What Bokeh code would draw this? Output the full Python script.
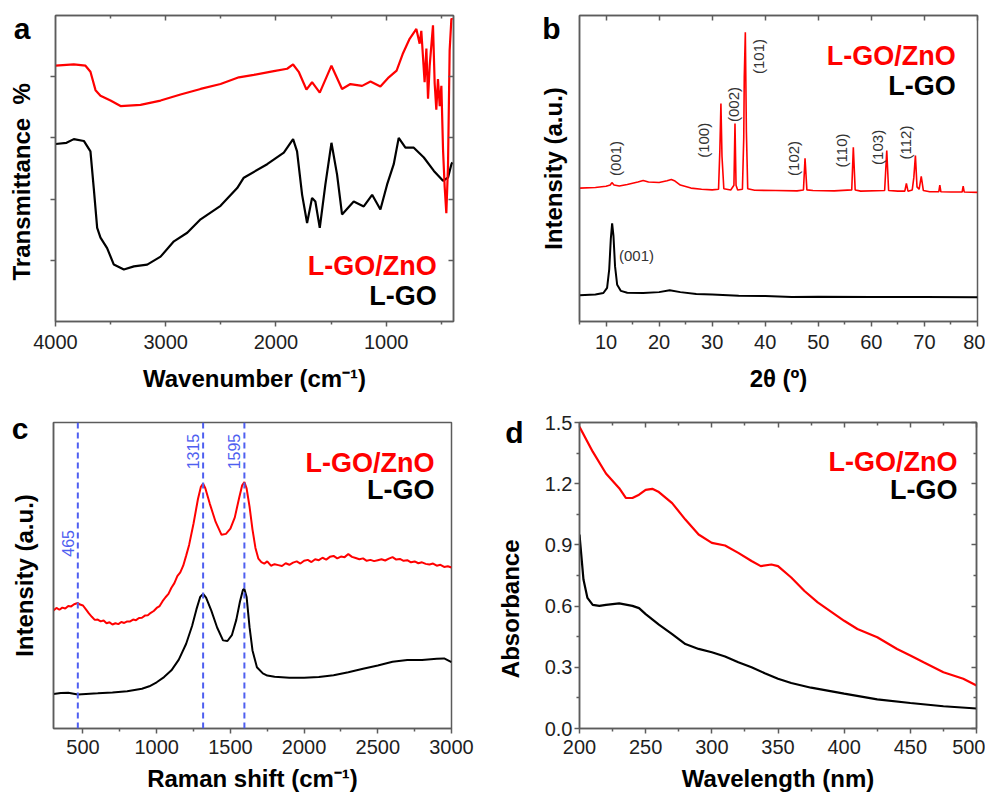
import math
from bokeh.plotting import figure
from bokeh.models import Range1d, FixedTicker, LinearAxis, Label, Span, CustomJSTickFormatter
from bokeh.layouts import row, column
from bokeh.embed import file_html
from bokeh.resources import INLINE

# ---------------- data ----------------
# (a) FTIR, transmittance (a.u.)
ftir_wn_lgozno = [4000, 3834, 3728, 3683, 3637, 3592, 3501, 3410, 3229, 3047, 2866, 2684, 2503,
                  2337, 2201, 2020, 1899, 1845, 1794, 1724, 1673, 1603, 1497, 1401, 1325, 1219,
                  1143, 1053, 977, 906, 851, 788, 742, 727, 697, 682, 652, 636, 621, 606, 576,
                  561, 546, 531, 515, 500, 485, 470, 455, 440, 425, 409, 400]
ftir_t_lgozno = [3.18, 3.20, 3.18, 3.08, 2.78, 2.69, 2.61, 2.52, 2.54, 2.61, 2.71, 2.80, 2.88,
                 2.99, 3.03, 3.09, 3.13, 3.20, 3.08, 2.79, 2.91, 2.74, 3.18, 2.80, 2.88, 2.85,
                 2.92, 2.84, 2.99, 3.10, 3.37, 3.62, 3.74, 3.78, 3.54, 3.75, 2.91, 3.46, 2.64,
                 3.18, 3.84, 2.90, 2.46, 2.96, 2.52, 2.85, 1.81, 1.20, 0.77, 1.53, 3.43, 3.95, 3.93]
ftir_wn_lgo = [4000, 3900, 3834, 3743, 3683, 3653, 3622, 3592, 3532, 3471, 3380, 3289, 3168,
               3047, 2926, 2805, 2684, 2503, 2352, 2292, 2080, 1929, 1845, 1809, 1763, 1718,
               1673, 1643, 1603, 1552, 1497, 1446, 1401, 1295, 1204, 1128, 1053, 992, 932,
               887, 826, 750, 659, 568, 485, 440, 409, 400]
ftir_t_lgo = [1.90, 1.92, 1.98, 1.95, 1.78, 1.18, 0.53, 0.37, 0.20, -0.07, -0.15, -0.10, -0.07,
              0.06, 0.31, 0.45, 0.67, 0.89, 1.18, 1.35, 1.57, 1.76, 1.98, 1.78, 1.07, 0.61,
              1.02, 0.96, 0.53, 1.24, 1.92, 1.40, 0.75, 0.96, 0.88, 1.07, 0.83, 1.24, 1.57,
              2.00, 1.84, 1.84, 1.68, 1.46, 1.30, 1.35, 1.57, 1.60]

# (b) XRD, intensity (a.u.)
xrd_2t_lgozno = [5, 8, 10, 10.8, 11.1, 11.5, 12.5, 14, 16, 17, 18, 20, 21.5, 22.3, 23, 24, 26, 28,
                 30, 31.2, 31.45, 31.65, 31.85, 32.2, 33.5, 34.1, 34.3, 34.5, 34.8, 35.7, 35.95,
                 36.05, 36.25, 36.45, 36.7, 38, 42, 46, 47.2, 47.5, 47.85, 49, 53, 56.3, 56.6,
                 56.95, 58, 62.5, 62.9, 63.25, 65, 66.3, 66.6, 66.9, 67.7, 68.0, 68.3, 68.6,
                 69.0, 69.4, 69.8, 71, 72.7, 72.9, 73.1, 75, 77.1, 77.3, 77.5, 80]
xrd_i_lgozno = [43.6, 43.8, 44.2, 44.6, 45.4, 44.6, 44.3, 44.8, 45.6, 46.1, 45.6, 45.4, 46.0, 46.4,
                45.9, 44.6, 43.6, 43.2, 43.0, 43.2, 56.0, 71.2, 54.0, 43.4, 43.0, 44.5, 64.7,
                44.5, 43.0, 43.2, 60.0, 80.0, 94.5, 62.0, 43.4, 42.9, 42.8, 42.7, 43.0, 53.3,
                43.0, 42.8, 42.7, 43.0, 56.9, 43.0, 42.6, 42.8, 55.9, 42.8, 42.6, 42.6, 45.1,
                42.6, 43.0, 47.0, 54.2, 44.0, 43.2, 47.4, 42.8, 42.4, 42.4, 44.6, 42.4, 42.3,
                42.3, 44.2, 42.3, 42.2]
xrd_2t_lgo = [5, 8, 9.5, 10.2, 10.6, 10.9, 11.15, 11.4, 11.7, 12.1, 12.8, 14, 17, 20, 22, 24, 27,
              30, 35, 40, 45, 50, 60, 70, 80]
xrd_i_lgo = [8.6, 8.8, 9.3, 11.0, 17.0, 27.0, 32.1, 28.0, 18.0, 12.0, 10.0, 9.4, 9.3, 9.6, 10.2,
             9.6, 9.0, 8.8, 8.4, 8.3, 8.0, 8.1, 8.0, 8.0, 7.9]
xrd_hkl = ["(001)", "(100)", "(002)", "(101)", "(102)", "(110)", "(103)", "(112)"]

# (c) Raman, intensity (a.u.)
raman_x_lgozno = [300, 320, 340, 360, 380, 400, 420, 440, 465, 480, 500, 520, 540, 560, 580, 600,
                  620, 640, 660, 680, 700, 720, 740, 760, 780, 800, 820, 840, 860, 880, 900, 920,
                  940, 960, 980, 1000, 1020, 1040, 1060, 1080, 1100, 1120, 1140, 1160, 1180, 1200,
                  1220, 1250, 1280, 1300, 1315, 1330, 1360, 1400, 1440, 1470, 1500, 1530, 1560,
                  1580, 1595, 1610, 1630, 1650, 1670, 1690, 1710, 1730, 1750, 1775, 1800, 1825,
                  1850, 1875, 1900, 1925, 1950, 1975, 2000, 2025, 2050, 2075, 2100, 2125, 2150,
                  2175, 2200, 2225, 2250, 2275, 2300, 2325, 2350, 2375, 2400, 2425, 2450, 2475,
                  2500, 2525, 2550, 2575, 2600, 2625, 2650, 2675, 2700, 2725, 2750, 2775, 2800,
                  2825, 2850, 2875, 2900, 2925, 2950, 2975, 3000]
raman_i_lgozno = [38.6, 39.4, 38.8, 39.5, 39.2, 40.0, 39.9, 40.6, 41.0, 40.5, 40.2, 38.9, 37.6,
                  36.5, 35.5, 35.6, 35.0, 35.3, 34.4, 34.7, 34.0, 34.4, 34.1, 34.8, 34.5, 35.0,
                  35.0, 35.6, 35.4, 36.1, 36.2, 36.9, 37.0, 37.8, 38.4, 39.4,
                  40.0, 41.6, 42.9, 44.0, 46.0, 47.5, 49.8, 51.0, 53.2, 56.5, 60.0, 67.0, 75.0,
                  79.0, 80.0, 78.5, 73.5, 67.5, 63.3, 63.6, 65.3, 69.0, 75.5, 79.5, 80.5, 78.5,
                  72.5, 65.0, 59.0, 55.5,
                  54.4, 53.9, 54.6, 53.2, 53.7, 53.4, 53.1, 54.0, 53.5, 54.2, 54.6, 53.9, 54.8,
                  55.1, 54.4, 55.3, 55.0, 55.8, 55.2, 56.1, 56.4, 55.6, 56.2, 56.0, 57.0, 56.1,
                  55.7, 55.3, 55.6, 54.8, 55.1, 54.7, 55.0, 55.3, 54.9, 55.5, 56.0, 55.2, 55.4,
                  54.8, 55.0, 54.3, 54.6, 54.0, 54.3, 53.8, 53.6, 53.9, 53.2, 53.5, 52.8, 53.0,
                  52.6]
raman_x_lgo = [300, 350, 400, 465, 520, 600, 700, 800, 900, 950, 1000, 1050, 1100, 1150, 1200, 1240,
               1270, 1295, 1315, 1335, 1370, 1410, 1450, 1480, 1510, 1540, 1565, 1585, 1595, 1610,
               1630, 1650, 1680, 1720, 1750, 1800, 1900, 2000, 2100, 2200, 2300, 2400, 2500,
               2600, 2700, 2800, 2900, 2950, 3000]
raman_i_lgo = [11.3, 11.6, 11.7, 11.1, 11.3, 11.5, 11.8, 12.2, 13.0, 13.8, 15.1, 16.8, 19.0, 22.5,
               27.7, 33.5, 39.0, 43.0, 44.0, 42.8, 38.6, 33.0, 28.8, 28.6, 30.5, 35.5, 41.5, 45.3,
               45.6, 43.0, 33.1, 25.5, 20.0, 18.0, 17.3, 16.9, 16.6, 16.6, 16.8, 17.4, 18.4, 19.5,
               20.6, 21.8, 22.4, 22.4, 22.8, 22.9, 21.7]
raman_bands = [465, 1315, 1595]

# (d) UV-vis absorbance
uv_nm_lgozno = [200, 210, 220, 230, 235, 240, 245, 250, 255, 260, 270, 280, 290, 300, 310, 320, 330,
                337, 345, 350, 360, 370, 380, 400, 410, 425, 440, 450, 460, 475, 490, 500]
uv_abs_lgozno = [1.479, 1.357, 1.250, 1.178, 1.130, 1.130, 1.146, 1.170, 1.175, 1.159, 1.105, 1.024,
                 0.951, 0.910, 0.897, 0.861, 0.821, 0.796, 0.804, 0.796, 0.740, 0.674, 0.618, 0.528,
                 0.488, 0.447, 0.390, 0.358, 0.325, 0.276, 0.244, 0.211]
uv_nm_lgo = [200, 203, 206, 210, 215, 220, 230, 240, 245, 250, 260, 270, 280, 290, 300, 310, 320, 330,
             340, 350, 360, 375, 400, 425, 450, 475, 500]
uv_abs_lgo = [0.951, 0.730, 0.640, 0.606, 0.601, 0.606, 0.613, 0.601, 0.590, 0.561, 0.509, 0.463,
              0.414, 0.390, 0.374, 0.353, 0.325, 0.300, 0.271, 0.244, 0.223, 0.200, 0.171, 0.143,
              0.125, 0.109, 0.098]

series_names = ["L-GO/ZnO", "L-GO"]

# ---------------- style ----------------
FONT = "Liberation Sans"
AXC = "#5c5c5c"
RED = "#ff0000"
BLACK = "#000000"
BLUE = "#4f5ff0"
TICKC = "#1e1e1e"
NB = "\u00a0"


def make_fig(w, h, xr, yr, bl, br, bt, bb):
    p = figure(width=w, height=h, x_range=xr, y_range=yr, output_backend="svg",
               toolbar_location=None, min_border_left=bl, min_border_right=br,
               min_border_top=bt, min_border_bottom=bb)
    p.grid.visible = False
    p.outline_line_color = AXC
    p.outline_line_width = 1.5
    p.border_fill_color = "white"
    p.background_fill_color = "white"
    return p


def style_axis(ax, ticks, minor, labels=True, inward=False, title=None, title_standoff=10,
               label_standoff=4):
    ax.ticker = FixedTicker(ticks=ticks, minor_ticks=minor)
    ax.axis_line_color = AXC
    ax.axis_line_width = 1.5
    ax.major_tick_line_color = AXC
    ax.minor_tick_line_color = AXC
    ax.major_tick_line_width = 1.5
    ax.minor_tick_line_width = 1.5
    if inward:
        ax.major_tick_in, ax.major_tick_out = 5, 0
        ax.minor_tick_in, ax.minor_tick_out = 3, 0
    else:
        ax.major_tick_in, ax.major_tick_out = 0, 5
        ax.minor_tick_in, ax.minor_tick_out = 0, 3
    if labels:
        ax.major_label_text_font = FONT
        ax.major_label_text_font_size = "20px"
        ax.major_label_text_color = TICKC
        ax.major_label_standoff = label_standoff
    else:
        ax.major_label_text_font_size = "0px"
        ax.major_label_text_color = None
        ax.major_label_standoff = 0
    if title:
        ax.axis_label = title
        ax.axis_label_text_font = FONT
        ax.axis_label_text_font_style = "bold"
        ax.axis_label_text_font_size = "24px"
        ax.axis_label_text_color = BLACK
        ax.axis_label_standoff = title_standoff


def add_mirror(p, where, ticks, minor):
    ax = LinearAxis()
    style_axis(ax, ticks, minor, labels=False, inward=True)
    p.add_layout(ax, where)


def letter_axis(p, ypos, letter, standoff, title, title_standoff):
    """Outer left axis: carries the panel letter (as its only tick label) and the y title."""
    ax = LinearAxis(ticker=FixedTicker(ticks=[ypos], minor_ticks=[]),
                    formatter=CustomJSTickFormatter(code="return '%s';" % letter))
    ax.axis_line_color = None
    ax.major_tick_line_color = None
    ax.minor_tick_line_color = None
    ax.major_tick_in = ax.major_tick_out = 0
    ax.minor_tick_in = ax.minor_tick_out = 0
    ax.major_label_text_font = FONT
    ax.major_label_text_font_style = "bold"
    ax.major_label_text_font_size = "30px"
    ax.major_label_text_color = BLACK
    ax.major_label_standoff = standoff
    ax.axis_label = title
    ax.axis_label_text_font = FONT
    ax.axis_label_text_font_style = "bold"
    ax.axis_label_text_font_size = "24px"
    ax.axis_label_text_color = BLACK
    ax.axis_label_standoff = title_standoff
    p.add_layout(ax, "left")


def legend(p, x, y1, y2):
    for yy, name, col in ((y1, series_names[0], RED), (y2, series_names[1], BLACK)):
        p.add_layout(Label(x=x, y=yy, text=name, text_font=FONT, text_font_style="bold",
                           text_font_size="27px", text_color=col, text_align="right",
                           text_baseline="middle"))


LW, RW = 494, 491
H1, H2 = 400, 398

# ---------------- (a) FTIR ----------------
pa = make_fig(LW, H1, Range1d(4000, 390), Range1d(-1, 4), 55, 41, 15, 79)
pa.line(ftir_wn_lgo, ftir_t_lgo, line_color=BLACK, line_width=2.2)
pa.line(ftir_wn_lgozno, ftir_t_lgozno, line_color=RED, line_width=2.2)
style_axis(pa.xaxis[0], [1000, 2000, 3000, 4000], [500, 1500, 2500, 3500],
           title="Wavenumber (cm\u207b\u00b9)", title_standoff=13, label_standoff=8)
style_axis(pa.yaxis[0], [0, 1, 2, 3], [], labels=False)
letter_axis(pa, 3.79, "a", 20, "Transmittance" + NB + NB + "%" + NB * 4, -24)
add_mirror(pa, "above", [1000, 2000, 3000], [500, 1500, 2500, 3500])
add_mirror(pa, "right", [0, 1, 2, 3], [])
legend(pa, 543, -0.10, -0.59)

# ---------------- (b) XRD ----------------
pb = make_fig(RW, H1, Range1d(5, 80), Range1d(0, 100), 85, 8, 15, 79)
pb.line(xrd_2t_lgo, xrd_i_lgo, line_color=BLACK, line_width=2.0)
pb.line(xrd_2t_lgozno, xrd_i_lgozno, line_color=RED, line_width=1.6)
style_axis(pb.xaxis[0], list(range(10, 81, 10)), list(range(5, 80, 10)),
           title="2\u03b8 (\u00ba)", title_standoff=13, label_standoff=8)
style_axis(pb.yaxis[0], [], [], labels=False)
letter_axis(pb, 95.75, "b", 19, "Intensity (a.u.)", -28)
add_mirror(pb, "above", list(range(10, 81, 10)), [])
legend(pb, 75.9, 86.9, 77.1)
hkl_x = [11.7, 28.4, 34.1, 38.8, 45.4, 54.3, 61.1, 66.5]
hkl_y = [53.3, 59.2, 70.9, 86.6, 53.3, 55.9, 56.9, 58.5]
for t, xx, yy in zip(xrd_hkl, hkl_x, hkl_y):
    pb.add_layout(Label(x=xx, y=yy, text=t, angle=math.pi / 2, text_font=FONT,
                        text_font_size="15px", text_color="#333333", text_align="center",
                        text_baseline="middle"))
pb.add_layout(Label(x=12.45, y=21.6, text=xrd_hkl[0], text_font=FONT, text_font_size="15px",
                    text_color="#333333", text_align="left", text_baseline="middle"))

# ---------------- (c) Raman ----------------
pc = make_fig(LW, H2, Range1d(300, 3000), Range1d(0, 100), 53, 43, 22, 70)
for b in raman_bands:
    pc.add_layout(Span(location=b, dimension="height", line_color=BLUE, line_width=2,
                       line_dash="6 4"))
pc.line(raman_x_lgo, raman_i_lgo, line_color=BLACK, line_width=2.0)
pc.line(raman_x_lgozno, raman_i_lgozno, line_color=RED, line_width=2.0)
style_axis(pc.xaxis[0], [500, 1000, 1500, 2000, 2500, 3000], [750, 1250, 1750, 2250, 2750],
           title="Raman shift (cm\u207b\u00b9)", title_standoff=8, label_standoff=6)
style_axis(pc.yaxis[0], [], [], labels=False)
letter_axis(pc, 98.0, "c", 25, "Intensity (a.u.)", -29)
band_y = [60.5, 90.5, 90.5]
for b, yy in zip(raman_bands, band_y):
    pc.add_layout(Label(x=b, y=yy, text=str(b), angle=math.pi / 2, text_font=FONT,
                        text_font_size="16px", text_color=BLUE, text_align="center",
                        text_baseline="bottom", x_offset=-4))
legend(pc, 2884, 86.9, 77.8)

# ---------------- (d) UV-vis ----------------
pd_ = make_fig(RW, H2, Range1d(200, 500), Range1d(0, 1.5), 84, 9, 22, 70)
pd_.line(uv_nm_lgo, uv_abs_lgo, line_color=BLACK, line_width=2.2)
pd_.line(uv_nm_lgozno, uv_abs_lgozno, line_color=RED, line_width=2.2)
xt = [200, 250, 300, 350, 400, 450, 500]
xm = [225, 275, 325, 375, 425, 475]
yt = [0.0, 0.3, 0.6, 0.9, 1.2, 1.5]
ym = [0.15, 0.45, 0.75, 1.05, 1.35]
style_axis(pd_.xaxis[0], xt, xm, title="Wavelength (nm)", title_standoff=8, label_standoff=6)
style_axis(pd_.yaxis[0], yt, ym, label_standoff=2)
pd_.yaxis[0].formatter = CustomJSTickFormatter(code="return tick.toFixed(1);")
letter_axis(pd_, 1.451, "d", 18, "Absorbance" + NB * 10, -22)
add_mirror(pd_, "above", xt, xm)
add_mirror(pd_, "right", yt, ym)
legend(pd_, 485.7, 1.304, 1.167)

layout = column(row(pa, pb), row(pc, pd_))
open("out.html", "w").write(file_html(layout, INLINE))
